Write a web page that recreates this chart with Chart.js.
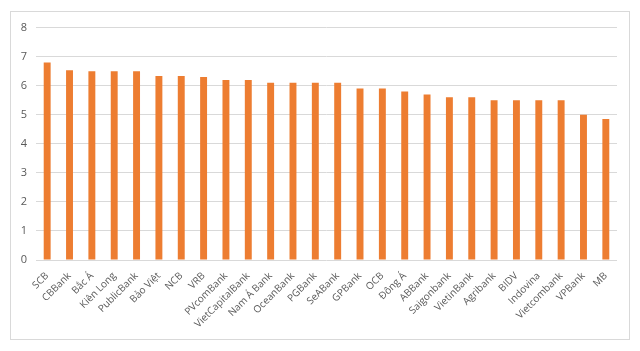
<!DOCTYPE html>
<html>
<head>
<meta charset="utf-8">
<script src="https://cdn.jsdelivr.net/npm/chart.js@4"></script>
<style>
  body { margin: 0; background: #fff; }
  #box {
    position: absolute; left: 10px; top: 11px;
    width: 618px; height: 327px;
    border: 1px solid #d9d9d9;
  }
</style>
</head>
<body>
<div id="box"><canvas id="bar-chart"></canvas></div>
<script>
// banks, sorted by value
const banks = [
  "SCB", "CBBank", "Bắc Á", "Kiên Long", "PublicBank", "Bảo Việt", "NCB",
  "VRB", "PVcomBank", "VietCapitalBank", "Nam Á Bank", "OceanBank", "PGBank",
  "SeABank", "GPBank", "OCB", "Đông Á", "ABBank", "Saigonbank", "VietinBank",
  "Agribank", "BIDV", "Indovina", "Vietcombank", "VPBank", "MB",
];
const values = [
  6.8, 6.53, 6.5, 6.5, 6.5, 6.33, 6.33,
  6.3, 6.2, 6.2, 6.1, 6.1, 6.1,
  6.1, 5.9, 5.9, 5.8, 5.7, 5.6, 5.6,
  5.5, 5.5, 5.5, 5.5, 5.0, 4.85,
];
const yTicks = [0, 1, 2, 3, 4, 5, 6, 7, 8];

const textColor = "#595959";

const canvas = document.getElementById("bar-chart");
const barChart = new Chart(canvas, {
  type: "bar",
  data: {
    labels: banks,
    datasets: [
      {
        data: values,
        backgroundColor: "#ED7D31",
        borderWidth: 0,
        barPercentage: 0.31,
        categoryPercentage: 1,
      },
    ],
  },
  options: {
    responsive: true,
    maintainAspectRatio: false,
    animation: false,
    layout: { padding: { top: 15, right: 12, left: 0, bottom: 0 } },
    plugins: {
      legend: { display: false },
      tooltip: { enabled: false },
    },
    scales: {
      x: {
        grid: { display: false },
        border: { display: false },
        ticks: {
          color: textColor,
          font: { family: "Open Sans", size: 10 },
          maxRotation: 45,
          minRotation: 45,
          autoSkip: false,
          padding: 2,
        },
        afterFit: (scale) => { scale.height = 79; },
      },
      y: {
        min: 0,
        max: 8,
        afterBuildTicks: (scale) => {
          scale.ticks = yTicks.map((v) => ({ value: v }));
        },
        grid: { color: "#d9d9d9", lineWidth: 1, drawTicks: false },
        border: { display: false },
        ticks: {
          color: textColor,
          font: { family: "Open Sans", size: 11 },
          padding: 9,
        },
        afterFit: (scale) => { scale.width = 25; },
      },
    },
  },
});
</script>
</body>
</html>
